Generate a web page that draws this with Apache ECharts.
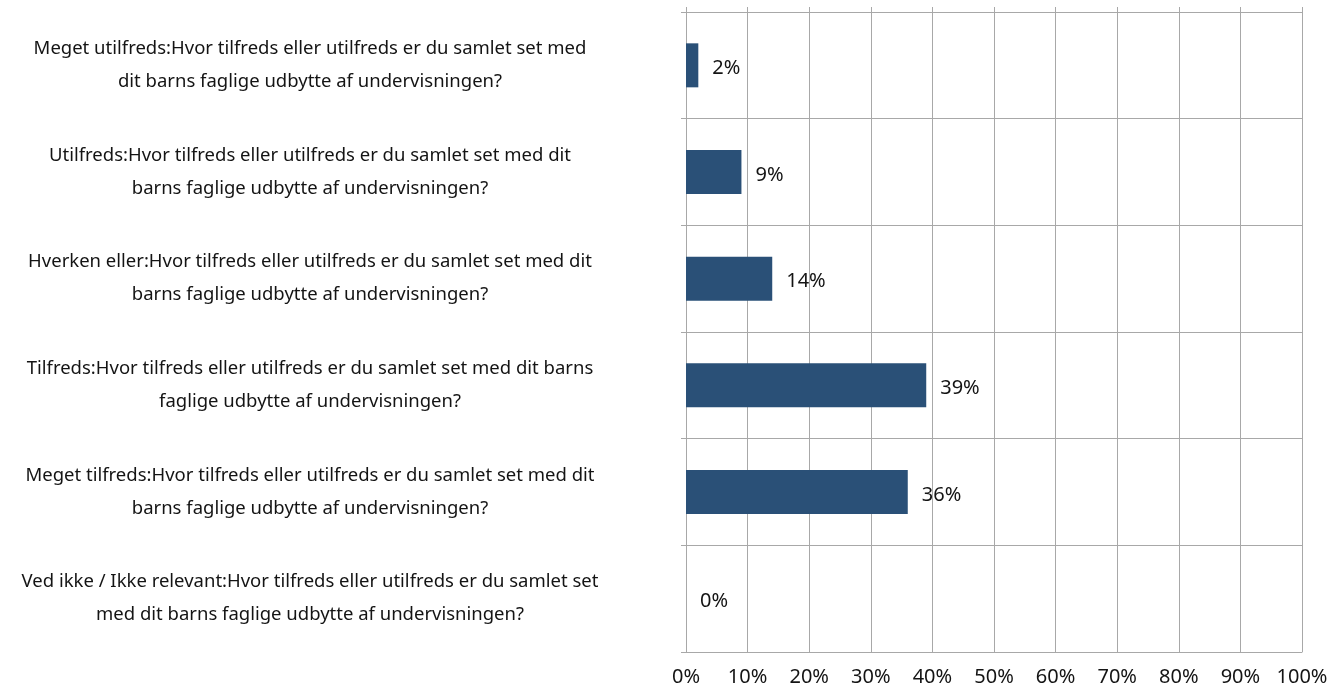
<!DOCTYPE html>
<html><head><meta charset="utf-8">
<script src="https://cdn.jsdelivr.net/npm/echarts@6/dist/echarts.min.js"></script>
<style>html,body{margin:0;padding:0;background:#fff;}#c{width:1338px;height:692px;}</style>
</head><body><div id="c"></div>
<script>
const categories = [
  "Meget utilfreds:Hvor tilfreds eller utilfreds er du samlet set med\ndit barns faglige udbytte af undervisningen?",
  "Utilfreds:Hvor tilfreds eller utilfreds er du samlet set med dit\nbarns faglige udbytte af undervisningen?",
  "Hverken eller:Hvor tilfreds eller utilfreds er du samlet set med dit\nbarns faglige udbytte af undervisningen?",
  "Tilfreds:Hvor tilfreds eller utilfreds er du samlet set med dit barns\nfaglige udbytte af undervisningen?",
  "Meget tilfreds:Hvor tilfreds eller utilfreds er du samlet set med dit\nbarns faglige udbytte af undervisningen?",
  "Ved ikke / Ikke relevant:Hvor tilfreds eller utilfreds er du samlet set\nmed dit barns faglige udbytte af undervisningen?"
];
const values = [2, 9, 14, 39, 36, 0];
const xTicks = [0, 10, 20, 30, 40, 50, 60, 70, 80, 90, 100];

const FONT = "Noto Sans";
const grey = "#a8a8a8";
const ink = "#141414";
const chart = echarts.init(document.getElementById('c'));
chart.setOption({
  animation: false,
  textStyle: { fontFamily: FONT },
  grid: { left: 686, right: 36, top: 12, bottom: 40 },
  xAxis: [{
    type: 'value', min: xTicks[0], max: xTicks[xTicks.length - 1], interval: 10,
    axisLine: { show: true, lineStyle: { color: grey } },
    axisTick: { show: false },
    splitLine: { show: true, lineStyle: { color: grey, width: 1 } },
    axisLabel: { formatter: '{value}%', color: ink, fontSize: 20, fontFamily: FONT, margin: 15 }
  }, {
    type: 'value', position: 'top', min: 0, max: 100, interval: 10,
    axisLine: { show: true, lineStyle: { color: grey } },
    axisTick: { show: true, length: 5, lineStyle: { color: grey } },
    splitLine: { show: false },
    axisLabel: { show: false }
  }],
  yAxis: {
    type: 'category', data: categories, inverse: true,
    axisLine: { show: true, lineStyle: { color: grey } },
    axisTick: { show: true, length: 5, lineStyle: { color: grey } },
    splitLine: { show: true, lineStyle: { color: grey } },
    axisLabel: { color: ink, fontSize: 18.5, fontFamily: FONT, align: 'center', margin: 376, lineHeight: 33 }
  },
  series: [{
    type: 'bar', data: values, barWidth: 44, xAxisIndex: 0,
    itemStyle: { color: '#2a5077' },
    label: { show: true, position: 'right', distance: 14, offset: [0, 3], formatter: '{c}%', color: ink, fontSize: 20, fontFamily: FONT }
  }]
});
</script></body></html>
